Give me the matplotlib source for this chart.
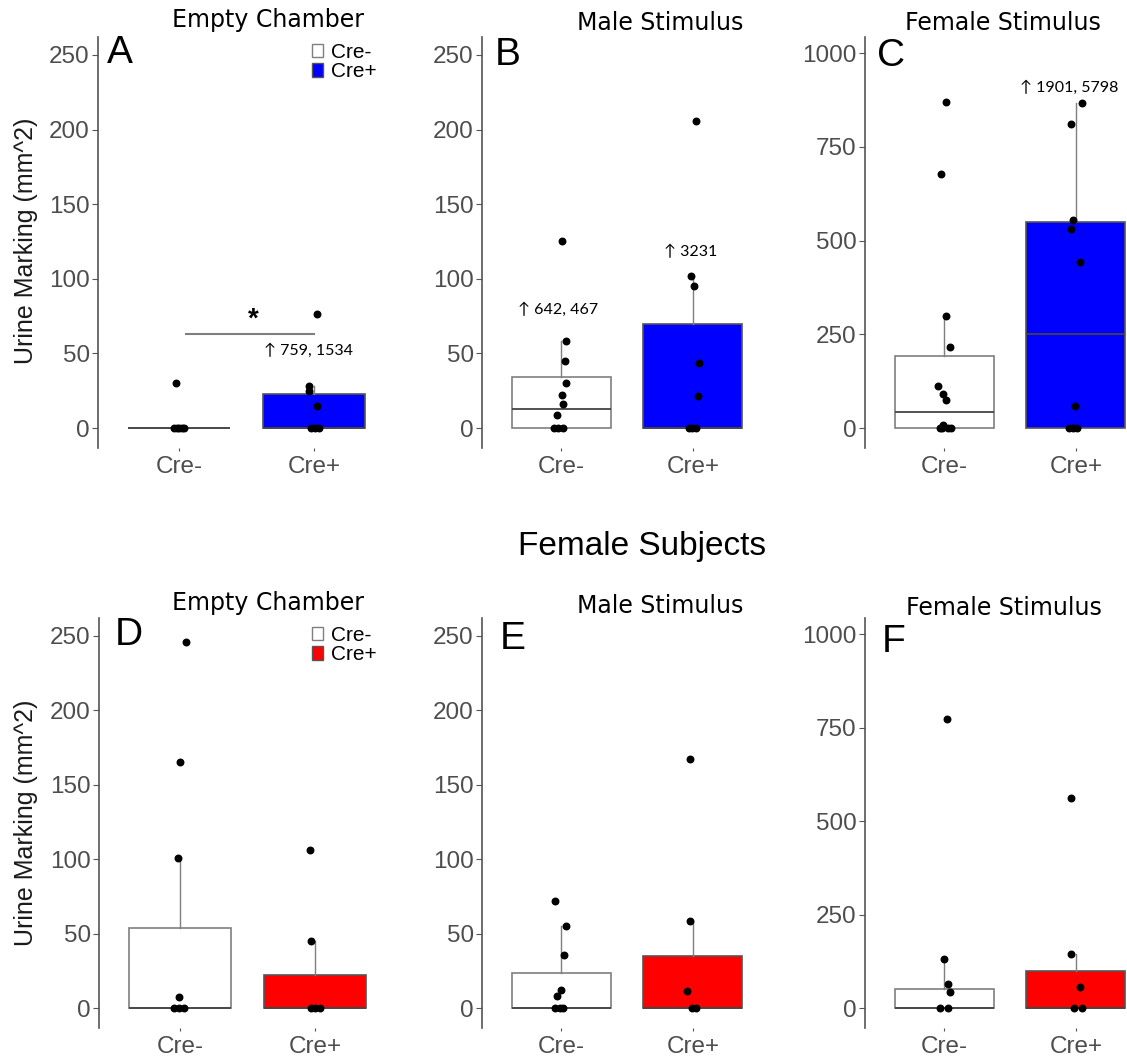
import numpy as np
import matplotlib
matplotlib.use('Agg')
import matplotlib.pyplot as plt
from matplotlib.patches import Patch

# categories
groups = ['Cre-', 'Cre+']

# points (value, jitter offset)
a_neg_pts = [30.4, 0, 0, 0, 0, 0]
a_neg_jit = [-0.025, -0.035, -0.015, 0.0, 0.02, 0.04]
a_pos_pts = [76.5, 28, 25, 15, 0, 0, 0]
a_pos_jit = [0.02, -0.04, -0.04, 0.025, -0.02, 0.01, 0.04]

b_neg_pts = [125.4, 58.5, 45, 30.1, 21.9, 16.1, 8.9, 0, 0, 0]
b_neg_jit = [0.005, 0.04, 0.03, 0.04, 0.005, 0.015, -0.033, -0.053, -0.02, 0.013]
b_pos_pts = [206, 101.6, 95.3, 43.5, 21.7, 0, 0, 0]
b_pos_jit = [0.023, -0.013, 0.008, 0.043, 0.038, -0.033, -0.008, 0.023]

c_neg_pts = [870, 678, 300, 216, 111, 90, 75, 9, 0, 0, 0, 0]
c_neg_jit = [0.013, -0.025, 0.018, 0.045, -0.05, -0.005, 0.018, -0.005, -0.033, -0.013, 0.03, 0.05]
c_pos_pts = [867, 811, 556, 531, 442, 60, 0, 0, 0]
c_pos_jit = [0.043, -0.038, -0.02, -0.038, 0.03, -0.008, -0.05, -0.02, 0.005]

d_neg_pts = [246, 165.3, 100.7, 7.4, 0, 0, 0]
d_neg_jit = [0.044, 0.0, -0.015, -0.007, -0.044, -0.007, 0.03]
d_pos_pts = [106, 44.8, 0, 0, 0]
d_pos_jit = [-0.04, -0.03, -0.03, 0.0, 0.037]

e_neg_pts = [71.8, 54.8, 35.8, 12.3, 8.3, 0, 0, 0]
e_neg_jit = [-0.045, 0.035, 0.02, -0.003, -0.028, -0.045, -0.008, 0.018]
e_pos_pts = [167.5, 58.6, 11.4, 0, 0]
e_pos_jit = [-0.02, -0.023, -0.043, -0.008, 0.025]

f_neg_pts = [772, 131, 64, 42, 0, 0]
f_neg_jit = [0.02, 0.003, 0.033, 0.048, -0.033, 0.033]
f_pos_pts = [562.5, 143.8, 56, 0, 0]
f_pos_jit = [-0.038, -0.038, 0.028, -0.013, 0.043]

# box stats: q1, median, q3, whisker low, whisker high
a_boxes = [(0, 0, 0, 0, 0), (0, 0, 22.6, 0, 28)]
b_boxes = [(0, 12.7, 33.9, 0, 58.5), (0, 0, 69.6, 0, 101.6)]
c_boxes = [(0, 42, 191, 0, 300), (0, 251, 549, 0, 867)]
d_boxes = [(0, 0, 53.9, 0, 100.7), (0, 0, 22.3, 0, 44.8)]
e_boxes = [(0, 0, 23.7, 0, 54.8), (0, 0, 35.1, 0, 58.6)]
f_boxes = [(0, 0, 51.8, 0, 131), (0, 0, 100, 0, 143.8)]

W, H = 1127, 1057
fig = plt.figure(figsize=(W / 100, H / 100), dpi=100)

SANS = ['Liberation Sans', 'DejaVu Sans']
TICK_GRAY = '#4d4d4d'


def fx(x):
    return x / W


def fy(y):
    return 1 - y / H


def make_axes(x0, y0, x1, y1):
    return fig.add_axes([fx(x0), fy(y1), (x1 - x0) / W, (y1 - y0) / H])


def draw_panel(ax, boxes, pts, jits, fill, ylim, yticks):
    stats = []
    for q1, med, q3, lo, hi in boxes:
        stats.append(dict(q1=q1, med=med, q3=q3, whislo=lo, whishi=hi, fliers=[]))
    bp = ax.bxp(stats, positions=[1, 2], widths=0.75, patch_artist=True,
                showcaps=False, showfliers=False,
                boxprops=dict(edgecolor='#7f7f7f', linewidth=1.2),
                whiskerprops=dict(color='#7f7f7f', linewidth=1.0),
                medianprops=dict(color='#444444', linewidth=1.3))
    bp['boxes'][0].set_facecolor('white')
    bp['boxes'][1].set_facecolor(fill)
    bp['boxes'][1].set_edgecolor('#555555')
    for i in range(2):
        ax.scatter(np.array(jits[i]) + i + 1, pts[i], s=22, color='black', zorder=5)
    ax.set_xlim(0.4, 2.6)
    ax.set_ylim(*ylim)
    ax.set_yticks(yticks)
    ax.set_xticks([1, 2])
    ax.set_xticklabels(groups)
    for s in ['top', 'right', 'bottom']:
        ax.spines[s].set_visible(False)
    ax.spines['left'].set_color('#555555')
    ax.spines['left'].set_linewidth(1.2)
    ax.tick_params(axis='both', colors='#555555', labelcolor=TICK_GRAY,
                   labelsize=17.5, length=4, width=0.8, pad=2)
    ax.tick_params(axis='x', length=2, pad=4)
    for lab in ax.get_xticklabels() + ax.get_yticklabels():
        lab.set_family(SANS)


small = (-13.4, 262)
big = (-53, 1043)
small_ticks = [0, 50, 100, 150, 200, 250]
big_ticks = [0, 250, 500, 750, 1000]

panels = [
    ((98, 37, 395, 448), a_boxes, (a_neg_pts, a_pos_pts), (a_neg_jit, a_pos_jit), 'blue', small, small_ticks),
    ((482, 37, 772, 448), b_boxes, (b_neg_pts, b_pos_pts), (b_neg_jit, b_pos_jit), 'blue', small, small_ticks),
    ((865, 37, 1155, 448), c_boxes, (c_neg_pts, c_pos_pts), (c_neg_jit, c_pos_jit), 'blue', big, big_ticks),
    ((99, 618, 396, 1028), d_boxes, (d_neg_pts, d_pos_pts), (d_neg_jit, d_pos_jit), 'red', small, small_ticks),
    ((482, 618, 772, 1028), e_boxes, (e_neg_pts, e_pos_pts), (e_neg_jit, e_pos_jit), 'red', small, small_ticks),
    ((865, 618, 1155, 1028), f_boxes, (f_neg_pts, f_pos_pts), (f_neg_jit, f_pos_jit), 'red', big, big_ticks),
]

axes = []
for rect, boxes, pts, jits, fill, ylim, yticks in panels:
    ax = make_axes(*rect)
    draw_panel(ax, boxes, pts, jits, fill, ylim, yticks)
    axes.append(ax)

# panel titles
titles = ['Empty Chamber', 'Male Stimulus', 'Female Stimulus'] * 2
title_pos = [(268, 20), (660, 23), (1003, 23), (268, 603), (660, 606), (1004, 608)]
for t, (x, y) in zip(titles, title_pos):
    fig.text(fx(x), fy(y), t, ha='center', va='center', fontsize=17,
             family='DejaVu Sans', color='black')

# panel letters
letters = ['A', 'B', 'C', 'D', 'E', 'F']
letter_pos = [(107, 63), (495, 65), (877, 66), (115, 645), (500, 649), (882, 652)]
for l, (x, y) in zip(letters, letter_pos):
    fig.text(fx(x), fy(y), l, ha='left', va='baseline', fontsize=28,
             family=SANS, color='black')

# y labels
fig.text(fx(26), fy(241), 'Urine Marking (mm^2)', rotation=90, ha='center',
         va='center', fontsize=18, family=SANS, color='#1a1a1a')
fig.text(fx(26), fy(823), 'Urine Marking (mm^2)', rotation=90, ha='center',
         va='center', fontsize=18, family=SANS, color='#1a1a1a')

fig.text(fx(642), fy(546), 'Female Subjects', ha='center', va='center',
         fontsize=24, family=SANS, color='black')

# legends
for ax, fill, top in [(axes[0], 'blue', 43), (axes[3], 'red', 626)]:
    handles = [Patch(facecolor='white', edgecolor='#7f7f7f', label='Cre-'),
               Patch(facecolor=fill, edgecolor='#555555', label='Cre+')]
    ax.legend(handles=handles, loc='upper left', bbox_to_anchor=(fx(312), fy(top)),
              bbox_transform=fig.transFigure, frameon=False,
              handlelength=0.55, handleheight=0.6, handletextpad=0.35,
              labelspacing=0.02, borderpad=0, borderaxespad=0,
              prop={'family': SANS, 'size': 15})

# off-scale annotations
ANN = ['Lato', 'DejaVu Sans']
axes[0].plot([1.05, 2.0], [63, 63], color='#7f7f7f', linewidth=1.5)
axes[0].text(1.55, 64, '*', ha='center', va='bottom', fontsize=20,
             fontweight='bold', family=SANS)
axes[0].text(1.96, 52, '\u2191 759, 1534', ha='center', va='center', fontsize=11.5, family=ANN)
axes[1].text(0.98, 79, '\u2191 642, 467', ha='center', va='center', fontsize=11.5, family=ANN)
axes[1].text(1.98, 118, '\u2191 3231', ha='center', va='center', fontsize=11.5, family=ANN)
axes[2].text(1.95, 909, '\u2191 1901, 5798', ha='center', va='center', fontsize=11.5, family=ANN)

fig.savefig('out.png', dpi=100)
